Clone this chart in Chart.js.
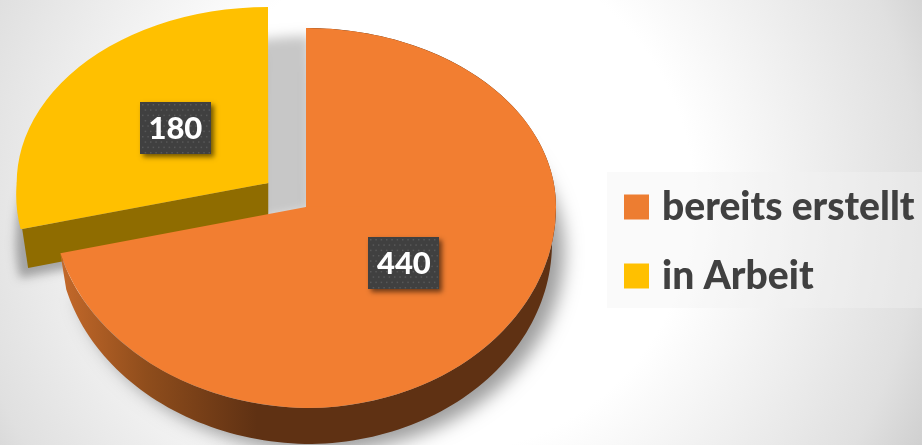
<!DOCTYPE html>
<html><head><meta charset="utf-8">
<style>html,body{margin:0;padding:0;background:#fff}canvas{display:block}</style>
<script src="https://cdn.jsdelivr.net/npm/chart.js@4"></script>
</head><body><canvas id="c" width="922" height="445"></canvas>
<script>
const categories = ['bereits erstellt', 'in Arbeit'];
const values = [440, 180];
const colors = ['#F27E31', '#FFC000'];
const legendColors = ['#ED7D31', '#FFC000'];
const explode = [0, 196];
const wallDepth = 36, faceDepth = 39;
const kUp = 179 / 250, kDown = 201 / 250, kSide = 0.70, kSideLow = 0.735, shear = -0.064, lift = 0.8, skew = 0.0165, widen = 1.015;

function shift(el) {
  const mid = (el.startAngle + el.endAngle) / 2, o = (el.options.offset || 0) / 4;
  return { x: Math.cos(mid) * o, y: Math.sin(mid) * o, mid, o };
}
// maps a point given relative to the slice apex (in the library's circular geometry) to the tilted view
function project(el, dx, dy) {
  const s = shift(el), cx = el.x + s.x;
  if (s.o) {
    const low = dy > 0;
    return [cx + dx + 1 + (low ? shear * dy : 0), el.y + s.y * lift + dy * (low ? kSideLow : kSide)];
  }
  const low = dx < 0 && dy > 0;
  return [cx + dx * (low ? widen : 1), el.y + dy * (dy < 0 ? kUp : kDown) + (low ? skew * dx : 0)];
}
function rim(el, a, depth) {
  const R = el.outerRadius;
  let [x, y] = project(el, R * Math.cos(a), R * Math.sin(a));
  if (depth) { const cx = el.x + shift(el).x; x = cx + 1 + (x - cx) * 0.98; }
  return [x, y + depth];
}
function apex(el, depth) {
  const [x, y] = project(el, 0, 0);
  return [x, y + depth];
}
function sectorPath(ctx, el, depth) {
  ctx.beginPath();
  ctx.moveTo(...apex(el, depth));
  for (let i = 0; i <= 160; i++) ctx.lineTo(...rim(el, el.startAngle + (el.endAngle - el.startAngle) * i / 160, depth));
  ctx.closePath();
}
function castShadow(ctx, el, depth, dx, dy, blur, color) {
  ctx.save();
  ctx.shadowColor = color; ctx.shadowBlur = blur;
  ctx.shadowOffsetX = 3000 + dx; ctx.shadowOffsetY = dy;
  ctx.translate(-3000, 0);
  ctx.fillStyle = '#000';
  sectorPath(ctx, el, depth); ctx.fill();
  ctx.restore();
}
function drawTop(ctx, chart, el) {
  const s = shift(el), h = chart.height, w = chart.width, py = el.y, cx = el.x;
  if (s.o) {
    const ay = py + s.y * lift, ay0 = py + s.y;
    [[0, ay + 0.5, kSide, 0], [ay - 0.5, h - ay, kSideLow, shear]].forEach(([t, rh, k, c]) => {
      ctx.save();
      ctx.beginPath(); ctx.rect(0, t, w, rh); ctx.clip();
      ctx.translate(1, ay); ctx.transform(1, 0, c, k, 0, 0); ctx.translate(0, -ay0);
      el.draw(ctx);
      ctx.restore();
    });
    return;
  }
  [[cx, 0, w - cx, py + 0.5, 1, kUp, 0], [cx - 0.5, py - 0.5, w - cx, h - py, 1, kDown, 0], [0, py - 30, cx, h - py + 30, widen, kDown, skew]].forEach(([l, t, rw, rh, sx, k, m]) => {
    ctx.save();
    ctx.beginPath(); ctx.rect(l, t, rw, rh); ctx.clip();
    ctx.translate(cx, py); ctx.transform(sx, m * sx, 0, k, 0, 0); ctx.translate(-cx, -py);
    el.draw(ctx);
    ctx.restore();
  });
}
function drawWall(ctx, el) {
  const g = ctx.createLinearGradient(rim(el, el.endAngle, 0)[0], 0, el.x, 0);
  g.addColorStop(0, '#C4692A'); g.addColorStop(0.35, '#8F4D1C');
  g.addColorStop(0.8, '#5F3113'); g.addColorStop(1, '#5F3113');
  ctx.fillStyle = g;
  ctx.beginPath();
  const N = 160, a0 = el.startAngle, a1 = el.endAngle;
  for (let i = 0; i <= N; i++) ctx.lineTo(...rim(el, a0 + (a1 - a0) * i / N, 0));
  for (let i = N; i >= 0; i--) ctx.lineTo(...rim(el, a0 + (a1 - a0) * i / N, wallDepth));
  ctx.closePath(); ctx.fill();
}
function drawCutFace(ctx, el) {
  ctx.fillStyle = '#8F6C00';
  ctx.beginPath();
  ctx.moveTo(...apex(el, 0));
  ctx.lineTo(...rim(el, el.startAngle, 0));
  ctx.lineTo(...rim(el, el.startAngle, faceDepth));
  ctx.lineTo(...apex(el, faceDepth));
  ctx.closePath(); ctx.fill();
}
function drawBadge(ctx, el, text, nudge) {
  const s = shift(el), r = el.outerRadius * 0.485;
  const [px, py] = project(el, Math.cos(s.mid) * r, Math.sin(s.mid) * r);
  const x = px + nudge[0], y = py + nudge[1];
  const bw = 71, bh = 52, l = Math.round(x - bw / 2), t = Math.round(y - bh / 2);
  ctx.save();
  ctx.shadowColor = 'rgba(0,0,0,.55)'; ctx.shadowBlur = 5; ctx.shadowOffsetX = 3; ctx.shadowOffsetY = 3;
  ctx.fillStyle = '#404040'; ctx.fillRect(l, t, bw, bh);
  ctx.restore();
  ctx.fillStyle = '#585858';
  for (let row = 0, yy = t + 2; yy < t + bh - 1; row++, yy += 5.33)
    for (let xx = l + 2 + (row % 2 ? 2.67 : 0); xx < l + bw - 1; xx += 5.33) ctx.fillRect(xx, yy, 1.5, 1.5);
  ctx.fillStyle = '#fff';
  ctx.font = '900 31px Lato';
  ctx.textAlign = 'center'; ctx.textBaseline = 'middle';
  ctx.fillText(text, x, y + 1);
}
const pie3d = {
  id: 'pie3d',
  beforeDraw(chart) {
    const ctx = chart.ctx, w = chart.width, h = chart.height;
    const g = ctx.createRadialGradient(440, 200, 0, 440, 200, 540);
    g.addColorStop(0, '#FFFFFF'); g.addColorStop(0.47, '#FFFFFF');
    g.addColorStop(0.89, '#E0E0E0'); g.addColorStop(1, '#D0D0D0');
    ctx.fillStyle = g; ctx.fillRect(0, 0, w, h);
    ctx.fillStyle = 'rgba(242,242,242,.4)';
    ctx.fillRect(607, 172, 315, 136);
  },
  afterLayout(chart) {
    const lg = chart.legend;
    lg.left = 600.5; lg.right = 922; lg.top = 157.5; lg.bottom = 330;
    lg.width = lg.right - lg.left; lg.height = lg.bottom - lg.top;
  },
  beforeDatasetsDraw(chart) {
    const ctx = chart.ctx, arcs = chart.getDatasetMeta(0).data, main = arcs[0], side = arcs[1];
    castShadow(ctx, main, wallDepth, 12, 8, 18, 'rgba(0,0,0,.38)');
    castShadow(ctx, side, 0, 42, 28, 12, 'rgba(0,0,0,.22)');
    castShadow(ctx, side, faceDepth, -8, 10, 10, 'rgba(0,0,0,.3)');
    drawCutFace(ctx, side);
    drawTop(ctx, chart, side);
    drawWall(ctx, main);
    drawTop(ctx, chart, main);
    const nudges = [[2, -4], [3, -3]];
    arcs.forEach((el, i) => drawBadge(ctx, el, String(values[i]), nudges[i]));
    return false;
  }
};
new Chart(document.getElementById('c'), {
  type: 'pie',
  data: { labels: categories, datasets: [{ data: values, backgroundColor: colors, borderWidth: 0, offset: explode, hoverOffset: 0 }] },
  options: {
    responsive: false, animation: false, events: [], radius: 250,
    layout: { padding: { left: 0, top: 0, right: 310, bottom: 31 } },
    plugins: {
      tooltip: { enabled: false },
      legend: {
        position: 'chartArea', align: 'start',
        labels: {
          boxWidth: 12, boxHeight: 12, padding: 30, color: '#404040',
          font: { family: 'Lato', weight: '900', size: 39 },
          generateLabels: () => categories.map((t, i) => ({ text: t, fillStyle: legendColors[i], strokeStyle: legendColors[i], lineWidth: 13, index: i, fontColor: '#404040' }))
        }
      }
    }
  },
  plugins: [pie3d]
});
</script></body></html>
